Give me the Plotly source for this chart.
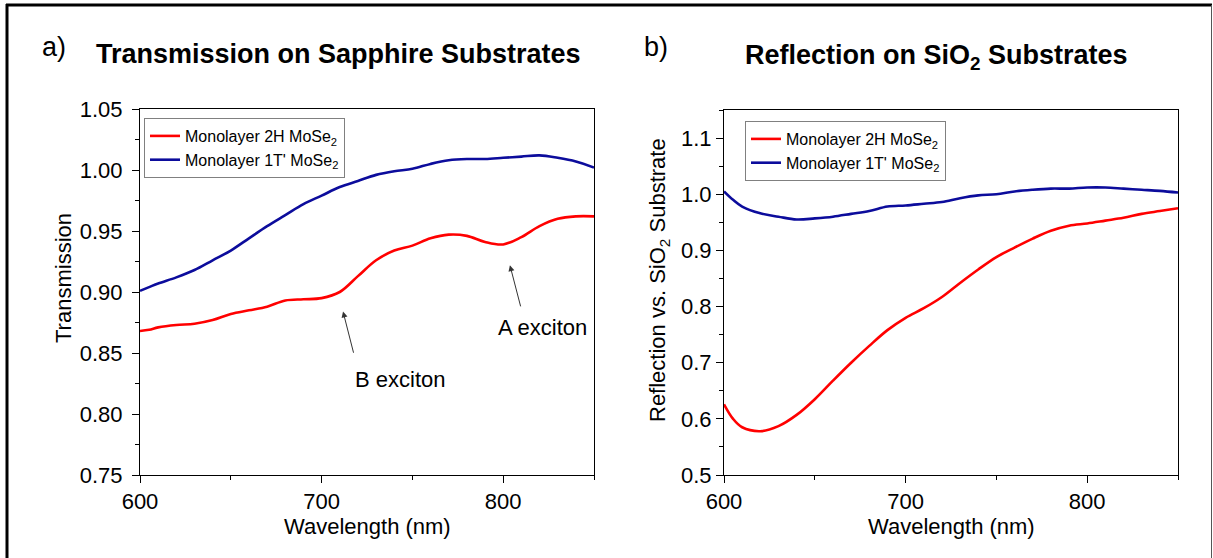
import plotly.graph_objects as go

# Wavelength grid (nm) and measured curves
wl = [600, 605, 610, 620, 630, 640, 650, 660, 670, 680, 690, 700, 710, 720,
      730, 740, 750, 760, 770, 780, 790, 800, 810, 820, 830, 840, 850]

trans_2h = [0.868, 0.869, 0.871, 0.873, 0.874, 0.877, 0.882, 0.885, 0.888, 0.893, 0.894,
            0.895, 0.900, 0.913, 0.926, 0.934, 0.938, 0.944, 0.947, 0.946, 0.941,
            0.939, 0.945, 0.954, 0.960, 0.962, 0.962]
trans_1t = [0.901, 0.904, 0.907, 0.912, 0.918, 0.926, 0.934, 0.944, 0.954, 0.963, 0.972,
            0.979, 0.986, 0.991, 0.996, 0.999, 1.001, 1.005, 1.008, 1.009, 1.009,
            1.010, 1.011, 1.012, 1.010, 1.007, 1.002]

refl_2h = [0.626, 0.600, 0.585, 0.578, 0.587, 0.607, 0.635, 0.668, 0.700, 0.730, 0.758,
           0.780, 0.797, 0.817, 0.842, 0.866, 0.888, 0.905, 0.921, 0.935, 0.944,
           0.948, 0.953, 0.958, 0.965, 0.970, 0.975]
refl_1t = [1.005, 0.990, 0.978, 0.966, 0.960, 0.955, 0.957, 0.960, 0.965, 0.970, 0.978,
           0.980, 0.983, 0.986, 0.993, 0.998, 1.000, 1.005, 1.008, 1.010, 1.010,
           1.012, 1.012, 1.010, 1.008, 1.006, 1.003]

x_ticks = [600, 700, 800]
y_ticks_a = [0.75, 0.80, 0.85, 0.90, 0.95, 1.00, 1.05]
y_ticks_b = [0.5, 0.6, 0.7, 0.8, 0.9, 1.0, 1.1]

RED = "#ff0000"
BLUE = "#0c0c9c"
FONT = "Arial, Liberation Sans, sans-serif"
FS = 22

fig = go.Figure()

fig.add_trace(go.Scatter(x=wl, y=trans_2h, mode="lines", line=dict(color=RED, width=2.6, shape="spline"),
                         name="Monolayer 2H MoSe<sub>2</sub>", legend="legend", xaxis="x", yaxis="y"))
fig.add_trace(go.Scatter(x=wl, y=trans_1t, mode="lines", line=dict(color=BLUE, width=2.6, shape="spline"),
                         name="Monolayer 1T' MoSe<sub>2</sub>", legend="legend", xaxis="x", yaxis="y"))
fig.add_trace(go.Scatter(x=wl, y=refl_2h, mode="lines", line=dict(color=RED, width=2.6, shape="spline"),
                         name="Monolayer 2H MoSe<sub>2</sub>", legend="legend2", xaxis="x2", yaxis="y2"))
fig.add_trace(go.Scatter(x=wl, y=refl_1t, mode="lines", line=dict(color=BLUE, width=2.6, shape="spline"),
                         name="Monolayer 1T' MoSe<sub>2</sub>", legend="legend2", xaxis="x2", yaxis="y2"))

W, H = 1213, 558


def px(x):
    return x / W


def py(y):
    return 1 - y / H


axis_common = dict(showline=True, mirror=True, linecolor="#000000", linewidth=1,
                   ticks="outside", ticklen=7, tickcolor="#000000", showgrid=False,
                   zeroline=False, automargin=False,
                   tickfont=dict(family=FONT, size=FS, color="#000000"))

fig.update_layout(
    width=W, height=H,
    margin=dict(l=0, r=0, t=0, b=0, autoexpand=False),
    paper_bgcolor="white", plot_bgcolor="white",
    font=dict(family=FONT, color="#000000"),
    xaxis=dict(domain=[px(140), px(594)], range=[600, 850], tickvals=x_ticks,
               minor=dict(ticks="outside", ticklen=4, dtick=50, tick0=600, tickcolor="#000000"),
               anchor="y", **axis_common),
    yaxis=dict(domain=[py(475), py(109)], range=[0.75, 1.05], tickvals=y_ticks_a,
               tickformat=".2f", ticklabelstandoff=5,
               minor=dict(ticks="outside", ticklen=4, dtick=0.025, tick0=0.75, tickcolor="#000000"),
               anchor="x", **axis_common),
    xaxis2=dict(domain=[px(724), px(1178)], range=[600, 850], tickvals=x_ticks,
                minor=dict(ticks="outside", ticklen=4, dtick=50, tick0=600, tickcolor="#000000"),
                anchor="y2", **axis_common),
    yaxis2=dict(domain=[py(475), py(110)], range=[0.5, 1.15], tickvals=y_ticks_b,
                tickformat=".1f",
                minor=dict(ticks="outside", ticklen=4, dtick=0.05, tick0=0.5, tickcolor="#000000"),
                anchor="x2", **axis_common),
    legend=dict(x=px(144), y=py(118), xanchor="left", yanchor="top",
                bgcolor="white", bordercolor="#808080", borderwidth=1,
                font=dict(family=FONT, size=16), tracegroupgap=0, itemwidth=30),
    legend2=dict(x=px(745), y=py(121), xanchor="left", yanchor="top",
                 bgcolor="white", bordercolor="#808080", borderwidth=1,
                 font=dict(family=FONT, size=16), tracegroupgap=0, itemwidth=30),
    showlegend=True,
)


def paper_text(text, x, y, size, **kw):
    return dict(text=text, x=px(x), y=py(y), xref="paper", yref="paper",
                xanchor=kw.pop("xanchor", "center"), yanchor="middle", showarrow=False,
                font=dict(family=FONT, size=size), **kw)


annotations = [
    paper_text("a)", 40, 47, 27, xanchor="left"),
    paper_text("<b>Transmission on Sapphire Substrates</b>", 338, 54, 27),
    paper_text("b)", 642, 47, 27, xanchor="left"),
    paper_text("<b>Reflection on SiO<sub>2</sub> Substrates</b>", 936, 57, 27),
    # axis titles
    paper_text("Wavelength (nm)", 367, 526, FS),
    paper_text("Wavelength (nm)", 951, 526, FS),
    paper_text("Transmission", 64, 278, FS, textangle=-90),
    paper_text("Reflection vs. SiO<sub>2</sub> Substrate", 659, 280, FS, textangle=-90),
    # exciton labels and pointers
    dict(text="B exciton", x=743.2, y=0.828, xref="x", yref="y", showarrow=False,
         font=dict(family=FONT, size=FS)),
    dict(text="", x=711.8, y=0.884, ax=717.8, ay=0.849, xref="x", yref="y", axref="x", ayref="y",
         showarrow=True, arrowhead=2, arrowsize=1.2, arrowwidth=1, arrowcolor="#333333"),
    dict(text="A exciton", x=821.4, y=0.871, xref="x", yref="y", showarrow=False,
         font=dict(family=FONT, size=FS)),
    dict(text="", x=803.7, y=0.922, ax=809.8, ay=0.887, xref="x", yref="y", axref="x", ayref="y",
         showarrow=True, arrowhead=2, arrowsize=1.2, arrowwidth=1, arrowcolor="#333333"),
]
fig.update_layout(annotations=annotations)

# outer frame around the figure
fig.update_layout(shapes=[
    dict(type="line", xref="paper", yref="paper", x0=px(7), x1=px(7), y0=0, y1=py(4), line=dict(color="black", width=3)),
    dict(type="line", xref="paper", yref="paper", x0=px(6), x1=px(1212), y0=py(5), y1=py(5), line=dict(color="black", width=3)),
    dict(type="line", xref="paper", yref="paper", x0=px(1211.5), x1=px(1211.5), y0=0, y1=py(5), line=dict(color="#555555", width=1)),
])

fig.write_html("out.html")
